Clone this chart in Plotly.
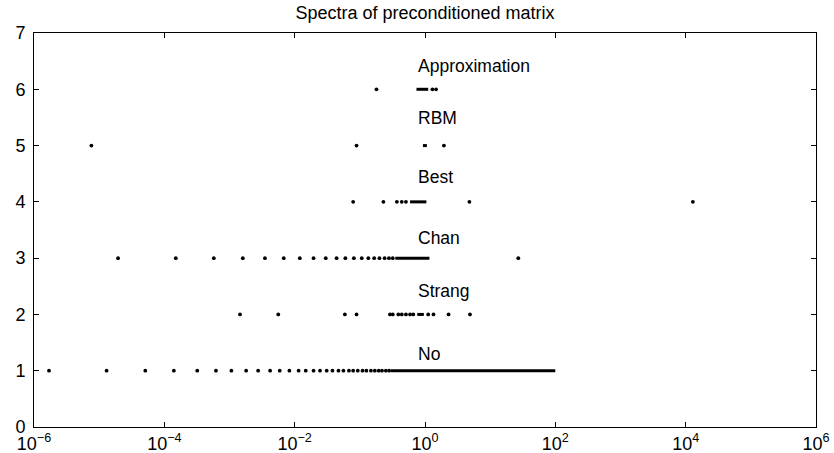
import numpy as np
import plotly.graph_objects as go

# ---- data ----
row_names = ["No", "Strang", "Chan", "Best", "RBM", "Approximation"]
row_levels = [1, 2, 3, 4, 5, 6]

no_dots = [1.7e-6, 1.3e-5, 5.1e-5, 1.4e-4, 3.2e-4, 6.2e-4, 1.07e-3, 1.8e-3, 2.75e-3,
           4.2e-3, 5.9e-3, 8.3e-3, 0.0115, 0.0148, 0.0195, 0.0245, 0.031, 0.038,
           0.047, 0.056, 0.068, 0.079, 0.093, 0.11, 0.126, 0.148, 0.17, 0.195,
           0.219, 0.251, 0.282]
no_band = [0.30, 100.0]

strang_dots = [1.45e-3, 5.6e-3, 0.059, 0.089, 0.29, 0.32, 0.39, 0.44, 0.51, 0.59,
               0.66, 1.12, 1.35, 2.3, 4.9]
strang_band = [0.76, 0.96]

chan_dots = [1.95e-5, 1.5e-4, 5.75e-4, 1.6e-3, 3.5e-3, 6.8e-3, 0.012, 0.0195, 0.030,
             0.044, 0.060, 0.081, 0.107, 0.135, 0.166, 0.20, 0.24, 0.28, 0.32, 27.0]
chan_band = [0.35, 1.17]

best_dots = [0.079, 0.23, 0.37, 0.44, 0.51, 4.8, 12900.0]
best_band = [0.59, 1.05]

rbm_dots = [7.6e-6, 0.089, 1.95]
rbm_band = [0.93, 1.07]

approx_dots = [0.18, 1.3, 1.48]
approx_band = [0.74, 1.12]

label_x = 0.74
label_y = [1.30, 2.42, 3.36, 4.44, 5.49, 6.41]

title_text = "Spectra of preconditioned matrix"
x_tick_vals = [1e-6, 1e-4, 1e-2, 1e0, 1e2, 1e4, 1e6]
x_tick_text = ["10<sup>\u22126</sup>", "10<sup>\u22124</sup>", "10<sup>\u22122</sup>",
               "10<sup>0</sup>", "10<sup>2</sup>", "10<sup>4</sup>", "10<sup>6</sup>"]
y_tick_vals = [0, 1, 2, 3, 4, 5, 6, 7]

# ---- figure ----
FONT = "Liberation Sans, Arial, Helvetica, sans-serif"
fig = go.Figure()

all_dots = [no_dots, strang_dots, chan_dots, best_dots, rbm_dots, approx_dots]
all_bands = [no_band, strang_band, chan_band, best_band, rbm_band, approx_band]

for lvl, dots, band in zip(row_levels, all_dots, all_bands):
    fig.add_trace(go.Scatter(
        x=band, y=[lvl] * len(band), mode="lines",
        line=dict(color="black", width=3), showlegend=False, hoverinfo="skip"))
    fig.add_trace(go.Scatter(
        x=dots, y=[lvl] * len(dots), mode="markers",
        marker=dict(color="black", size=3.8, line=dict(width=0)),
        showlegend=False))

for name, ly in zip(row_names, label_y):
    fig.add_annotation(x=np.log10(label_x), y=ly, xref="x", yref="y",
                       text=name, showarrow=False, xanchor="left", yanchor="middle",
                       font=dict(family=FONT, size=17.5, color="black"))

axis_common = dict(showline=True, linecolor="black", linewidth=1, mirror="ticks",
                   ticks="inside", ticklen=5, tickwidth=1, tickcolor="black",
                   showgrid=False, zeroline=False, automargin=False,
                   tickfont=dict(family=FONT, size=18, color="black"))

fig.update_xaxes(type="log", range=[-6, 6], tickvals=x_tick_vals, ticktext=x_tick_text,
                 **axis_common)
fig.update_yaxes(range=[0, 7], tickvals=y_tick_vals, ticklabelstandoff=4, **axis_common)

fig.update_layout(
    width=834, height=453,
    margin=dict(l=34, r=18, t=33, b=26, autoexpand=False),
    paper_bgcolor="white", plot_bgcolor="white",
    title=dict(text=title_text, x=0.5, xref="paper", y=1 - 13 / 453, yref="container",
               xanchor="center", yanchor="middle",
               font=dict(family=FONT, size=18, color="black")),
    showlegend=False,
)

fig.write_html("out.html")
